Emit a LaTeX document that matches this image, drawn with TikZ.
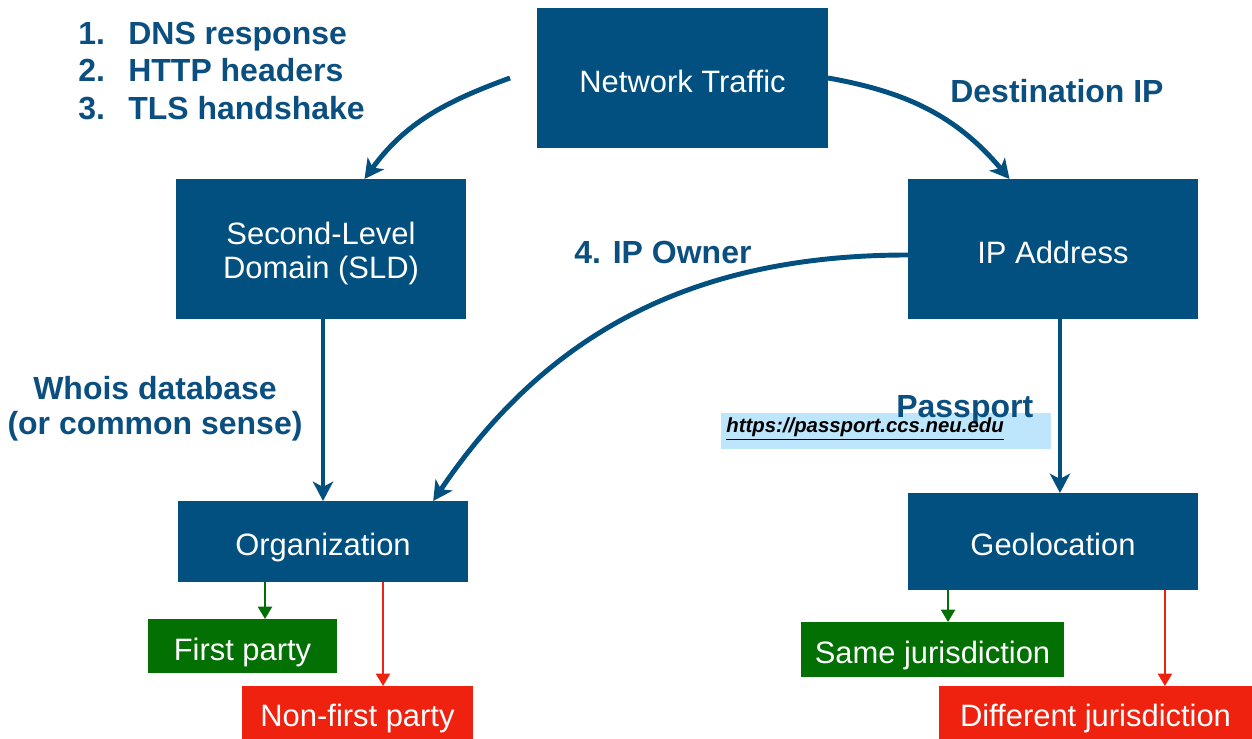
\documentclass[tikz,border=0pt]{standalone}
\usepackage{fontspec}
\setmainfont{Liberation Sans}
\usetikzlibrary{arrows.meta,positioning,calc}
\definecolor{BoxBlue}{HTML}{02507F}
\definecolor{LabelBlue}{HTML}{0B4F80}
\definecolor{PassGreen}{HTML}{037003}
\definecolor{FailRed}{HTML}{EE220F}
\definecolor{LinkHi}{HTML}{BDE5FB}

\begin{document}
\begin{tikzpicture}[x=0.02cm,y=-0.02cm,
  stagebox/.style={rectangle,fill=BoxBlue,text=white,inner sep=0pt,outer sep=0pt,
    align=center,text height=16.5pt,text depth=0pt,font=\fontsize{17.6}{19.5}\selectfont},
  okbox/.style={stagebox,fill=PassGreen},
  badbox/.style={stagebox,fill=FailRed},
  lbl/.style={text=LabelBlue,inner sep=0pt,font=\fontsize{18.2}{20}\selectfont\bfseries},
  flow/.style={-{Stealth[length=11pt,width=11.5pt,inset=3pt]},BoxBlue,line width=2.8pt},
  okarrow/.style={-{Triangle[length=7pt,width=8pt]},PassGreen,line width=1.1pt},
  badarrow/.style={-{Triangle[length=7pt,width=8pt]},FailRed,line width=1.1pt}]
\useasboundingbox (0,0) rectangle (1252,739);

% boxes
\node[stagebox,minimum width=5.82cm,minimum height=2.8cm] (nt) at (682.5,78) {Network Traffic};
\node[stagebox,text height=34pt,minimum width=5.8cm,minimum height=2.8cm] (sld) at (321,249) {Second-Level\\Domain (SLD)};
\node[stagebox,minimum width=5.8cm,minimum height=2.8cm] (ip) at (1053,249) {IP Address};
\node[stagebox,minimum width=5.8cm,minimum height=1.62cm] (org) at (323,541.5) {Organization};
\node[stagebox,minimum width=5.8cm,minimum height=1.94cm] (geo) at (1053,541.5) {Geolocation};
\node[okbox,minimum width=3.78cm,minimum height=1.08cm] (first) at (242.5,646) {First party};
\node[badbox,minimum width=4.62cm,minimum height=1.06cm] (nonfirst) at (357.5,712.5) {Non-first party};
\node[okbox,minimum width=5.26cm,minimum height=1.1cm] (same) at (932.5,649.5) {Same jurisdiction};
\node[badbox,minimum width=6.26cm,minimum height=1.06cm] (diff) at (1095.5,712.5) {Different jurisdiction};

% labels
\node[lbl,anchor=base west] (n1) at (78,45) {1.};
\node[lbl,anchor=base west] (dns) at (128,45) {DNS response};
\node[lbl,anchor=base west] (n2) at (78,82) {2.};
\node[lbl,anchor=base west] (http) at (128,82) {HTTP headers};
\node[lbl,anchor=base west] (n3) at (78,120) {3.};
\node[lbl,anchor=base west] (tls) at (128,120) {TLS handshake};
\node[lbl,anchor=base west] (dstip) at (950,103) {Destination IP};
\node[lbl,anchor=base west] (owner) at (574,264) {4. IP Owner};
\node[lbl,anchor=base] (whois) at (155,400) {Whois database};
\node[lbl,anchor=base] (sense) at (155,435) {(or common sense)};

% passport link
\fill[LinkHi] (721,413) rectangle (1051,449);
\node[lbl,anchor=base west] (pass) at (896,418) {Passport};
\node[anchor=base west,inner sep=0pt,font=\fontsize{11.6}{13}\selectfont\bfseries\itshape] (link)
  at (726,433) {\underline{https://passport.ccs.neu.edu}};

% connectors
\coordinate (ipx) at ($(ip.south west)!0.524!(ip.south east)$);
\coordinate (orgok) at ($(org.south west)!0.3!(org.south east)$);
\coordinate (orgbad) at ($(org.south west)!0.707!(org.south east)$);
\coordinate (geook) at ($(geo.south west)!0.138!(geo.south east)$);
\coordinate (geobad) at ($(geo.south west)!0.886!(geo.south east)$);

\draw[flow] ([xshift=-0.54cm]nt.west) to[out=200,in=54] ($(sld.north west)!0.65!(sld.north east)$);
\draw[flow] (nt.east) to[out=-10,in=130] ($(ip.north west)!0.35!(ip.north east)$);
\draw[flow] ([yshift=-0.12cm]ip.west) to[out=180,in=56] ($(org.north west)!0.88!(org.north east)$);
\draw[flow] (org.north |- sld.south) -- (org.north);
\draw[flow] (ipx) -- (ipx |- geo.north);

\draw[okarrow] (orgok) -- (orgok |- first.north);
\draw[badarrow] (orgbad) -- (orgbad |- nonfirst.north);
\draw[okarrow] (geook) -- (geook |- same.north);
\draw[badarrow] (geobad) -- (geobad |- diff.north);
\end{tikzpicture}
\end{document}
